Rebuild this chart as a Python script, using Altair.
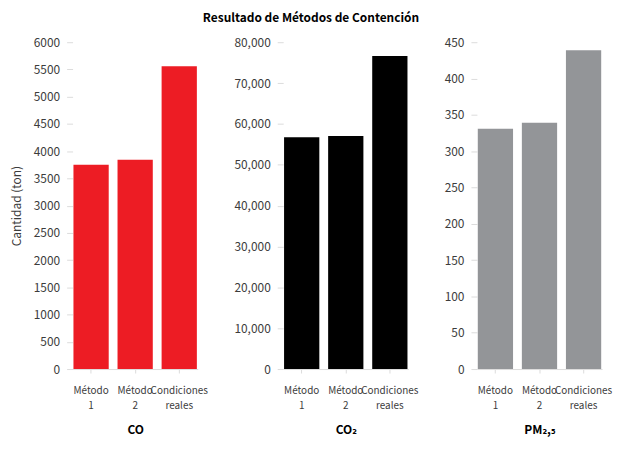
"""Three-panel bar chart: emissions under each containment method."""

import altair as alt
import pandas as pd

categories = ["Método 1", "Método 2", "Condiciones reales"]
co_values = [3750, 3840, 5560]
co2_values = [56750, 57070, 76600]
pm_values = [331, 339, 439]

_FONT = "Noto Sans CJK JP, DejaVu Sans Condensed, sans-serif"
_LABEL = "#3c3c3c"
_TICK = "#dcdcdc"
_W = 126
_H = 329


def _panel(values, color, xtitle, ymax, ystep, yfmt, ytitle=None):
    df = pd.DataFrame({"metodo": categories, "valor": values})
    yaxis = dict(
        values=list(range(0, ymax + 1, ystep)),
        format=yfmt,
        grid=False,
        domain=False,
        tickColor=_TICK,
        tickSize=6,
        labelPadding=7,
        labelFontSize=12,
        labelColor=_LABEL,
        labelFont=_FONT,
    )
    if ytitle:
        yaxis.update(
            title=ytitle,
            titleFont=_FONT,
            titleFontSize=12,
            titleFontWeight="normal",
            titleColor=_LABEL,
            titlePadding=10,
        )
    else:
        yaxis["title"] = None
    return (
        alt.Chart(df)
        .mark_bar(color=color)
        .encode(
            x=alt.X(
                "metodo:N",
                sort=categories,
                scale=alt.Scale(paddingInner=0.2, paddingOuter=0.02),
                axis=alt.Axis(
                    title=xtitle,
                    labelAngle=0,
                    labelExpr="split(datum.label, ' ')",
                    labelFont=_FONT,
                    labelFontSize=10,
                    labelColor=_LABEL,
                    labelLineHeight=15,
                    labelPadding=13,
                    tickColor=_TICK,
                    tickSize=4,
                    domainColor=_TICK,
                    titleFont=_FONT,
                    titleFontSize=12,
                    titleFontWeight="bold",
                    titleColor="#000000",
                    titlePadding=14,
                ),
            ),
            y=alt.Y(
                "valor:Q",
                scale=alt.Scale(domain=[0, ymax], nice=False),
                axis=alt.Axis(**yaxis),
            ),
        )
        .properties(width=_W, height=_H)
    )


co = _panel(co_values, "#ED1C24", "CO", 6000, 500, "d", "Cantidad (ton)")
co2 = _panel(co2_values, "#000000", "CO₂", 80000, 10000, ",d")
pm = _panel(pm_values, "#939598", "PM₂,₅", 450, 50, "d")

chart = (
    alt.hconcat(co, co2, pm, spacing=26)
    .properties(
        title=alt.TitleParams(
            "Resultado de Métodos de Contención",
            font=_FONT,
            fontSize=12,
            fontWeight="bold",
            color="#000000",
            anchor="middle",
            offset=11,
        ),
        padding={"left": 2, "top": 3, "right": 2, "bottom": 2},
        background="white",
    )
    .configure_view(strokeWidth=0)
)

chart.save("out.html", embed_options={"renderer": "svg", "actions": False})
